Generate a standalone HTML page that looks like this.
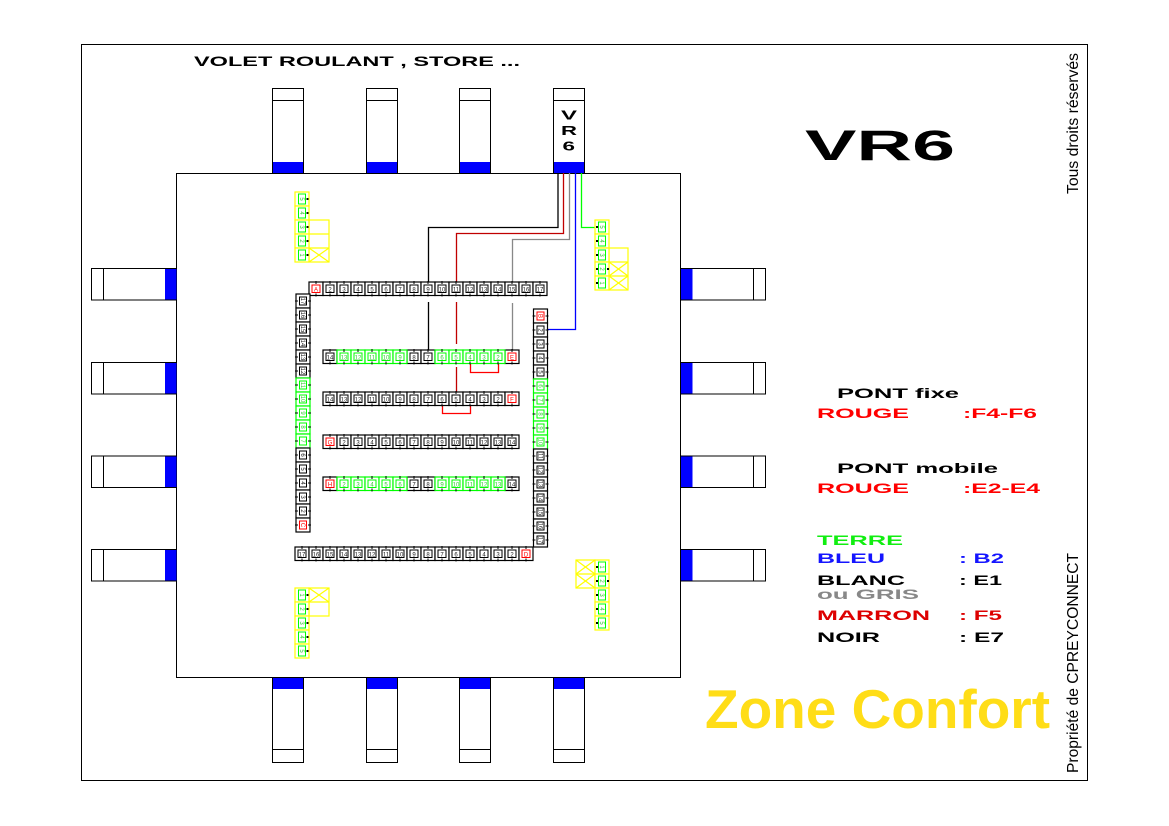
<!DOCTYPE html>
<html><head><meta charset="utf-8"><style>
html,body{margin:0;padding:0;background:#fff;overflow:hidden}
svg{display:block}
.t{font-size:6px;fill:#222;text-anchor:middle;font-family:"Liberation Sans",sans-serif}
.g{fill:#33cc33}
.r{fill:#f00}
.b{font-family:"Liberation Sans",sans-serif;font-weight:bold}
</style></head><body>
<svg width="1169" height="826" viewBox="0 0 1169 826" xmlns="http://www.w3.org/2000/svg" font-family="Liberation Sans, sans-serif">
<defs>
<g id="hb"><rect x="0" y="0" width="14" height="13.5" fill="#fff" stroke="#000" stroke-width="1.2"/><rect x="3" y="3" width="8" height="7.5" fill="none" stroke="#000"/><rect x="6.5" y="-1" width="1" height="3" fill="#000"/><rect x="6.5" y="11.5" width="1" height="3" fill="#000"/></g>
<g id="hg"><rect x="0" y="0" width="14" height="13.5" fill="#fff" stroke="#0f0" stroke-width="1.2"/><rect x="3" y="3" width="8" height="7.5" fill="none" stroke="#0f0"/><rect x="6.5" y="-1" width="1" height="3" fill="#000"/><rect x="6.5" y="11.5" width="1" height="3" fill="#000"/></g>
<g id="hr"><rect x="0" y="0" width="14" height="13.5" fill="#fff" stroke="#000" stroke-width="1.2"/><rect x="3" y="3" width="8" height="7.5" fill="none" stroke="#f00"/><rect x="6.5" y="-1" width="1" height="3" fill="#000"/><rect x="6.5" y="11.5" width="1" height="3" fill="#000"/></g>
<g id="vb"><rect x="0" y="0" width="14" height="14" fill="#fff" stroke="#000" stroke-width="1.2"/><rect x="3.5" y="3" width="7" height="8" fill="none" stroke="#000"/><rect x="-1" y="6.5" width="3" height="1" fill="#000"/><rect x="12" y="6.5" width="3" height="1" fill="#000"/></g>
<g id="vg"><rect x="0" y="0" width="14" height="14" fill="#fff" stroke="#0f0" stroke-width="1.2"/><rect x="3.5" y="3" width="7" height="8" fill="none" stroke="#0f0"/><rect x="-1" y="6.5" width="3" height="1" fill="#000"/><rect x="12" y="6.5" width="3" height="1" fill="#000"/></g>
<g id="vr"><rect x="0" y="0" width="14" height="14" fill="#fff" stroke="#000" stroke-width="1.2"/><rect x="3.5" y="3" width="7" height="8" fill="none" stroke="#f00"/><rect x="-1" y="6.5" width="3" height="1" fill="#000"/><rect x="12" y="6.5" width="3" height="1" fill="#000"/></g>
<g id="yc"><rect x="0" y="0" width="14" height="14" fill="#fff" stroke="#ff0" stroke-width="1.2"/><rect x="3.5" y="2" width="7" height="10" fill="none" stroke="#0f0"/></g>
</defs>

<!-- outer frame -->
<rect x="81.5" y="44.5" width="1006" height="736" fill="#fff" stroke="#000"/>
<!-- inner box -->
<rect x="176.5" y="173.5" width="504" height="504" fill="#fff" stroke="#000"/>

<!-- top connectors -->
<g stroke="#000" fill="#fff">
<rect x="272.5" y="88.5" width="31" height="85"/><line x1="272.5" y1="100.5" x2="303.5" y2="100.5"/>
<rect x="366.5" y="88.5" width="31" height="85"/><line x1="366.5" y1="100.5" x2="397.5" y2="100.5"/>
<rect x="459.5" y="88.5" width="31" height="85"/><line x1="459.5" y1="100.5" x2="490.5" y2="100.5"/>
<rect x="553.5" y="88.5" width="31" height="85"/><line x1="553.5" y1="100.5" x2="584.5" y2="100.5"/>
</g>
<g fill="#00f">
<rect x="273" y="162" width="30" height="11"/><rect x="367" y="162" width="30" height="11"/><rect x="460" y="162" width="30" height="11"/><rect x="554" y="162" width="30" height="11"/>
</g>
<!-- bottom connectors -->
<g stroke="#000" fill="#fff">
<rect x="272.5" y="677.5" width="31" height="85"/><line x1="272.5" y1="749.5" x2="303.5" y2="749.5"/>
<rect x="366.5" y="677.5" width="31" height="85"/><line x1="366.5" y1="749.5" x2="397.5" y2="749.5"/>
<rect x="459.5" y="677.5" width="31" height="85"/><line x1="459.5" y1="749.5" x2="490.5" y2="749.5"/>
<rect x="553.5" y="677.5" width="31" height="85"/><line x1="553.5" y1="749.5" x2="584.5" y2="749.5"/>
</g>
<g fill="#00f">
<rect x="273" y="678" width="30" height="11"/><rect x="367" y="678" width="30" height="11"/><rect x="460" y="678" width="30" height="11"/><rect x="554" y="678" width="30" height="11"/>
</g>
<!-- left connectors -->
<g stroke="#000" fill="#fff">
<rect x="91.5" y="268.5" width="85" height="31.5"/><line x1="103.5" y1="268.5" x2="103.5" y2="300"/>
<rect x="91.5" y="362.5" width="85" height="31.5"/><line x1="103.5" y1="362.5" x2="103.5" y2="394"/>
<rect x="91.5" y="456" width="85" height="31.5"/><line x1="103.5" y1="456" x2="103.5" y2="487.5"/>
<rect x="91.5" y="549.5" width="85" height="31.5"/><line x1="103.5" y1="549.5" x2="103.5" y2="581"/>
</g>
<g fill="#00f">
<rect x="165" y="269" width="11.5" height="30.5"/><rect x="165" y="363" width="11.5" height="30.5"/><rect x="165" y="456.5" width="11.5" height="30.5"/><rect x="165" y="550" width="11.5" height="30.5"/>
</g>
<!-- right connectors -->
<g stroke="#000" fill="#fff">
<rect x="680.5" y="268.5" width="85" height="31.5"/><line x1="753.5" y1="268.5" x2="753.5" y2="300"/>
<rect x="680.5" y="362.5" width="85" height="31.5"/><line x1="753.5" y1="362.5" x2="753.5" y2="394"/>
<rect x="680.5" y="456" width="85" height="31.5"/><line x1="753.5" y1="456" x2="753.5" y2="487.5"/>
<rect x="680.5" y="549.5" width="85" height="31.5"/><line x1="753.5" y1="549.5" x2="753.5" y2="581"/>
</g>
<g fill="#00f">
<rect x="681" y="269" width="11.5" height="30.5"/><rect x="681" y="363" width="11.5" height="30.5"/><rect x="681" y="456.5" width="11.5" height="30.5"/><rect x="681" y="550" width="11.5" height="30.5"/>
</g>

<!-- VR6 label in connector -->
<text class="b" x="561" y="119.5" font-size="13" textLength="16" lengthAdjust="spacingAndGlyphs">V</text>
<text class="b" x="561" y="135" font-size="13" textLength="16" lengthAdjust="spacingAndGlyphs">R</text>
<text class="b" x="562.5" y="150.5" font-size="13" textLength="12.5" lengthAdjust="spacingAndGlyphs">6</text>

<!-- wires -->
<g fill="none" stroke-width="1.3">
<polyline points="558,173 558,227.5 428.5,227.5 428.5,282" stroke="#000"/>
<line x1="428.5" y1="302" x2="428.5" y2="350" stroke="#000"/>
<polyline points="563.5,173 563.5,233.5 456.5,233.5 456.5,282" stroke="#c00000"/>
<line x1="456.5" y1="302" x2="456.5" y2="344" stroke="#c00000"/>
<line x1="456.5" y1="367" x2="456.5" y2="392" stroke="#c00000"/>
<polyline points="569.5,173 569.5,239.5 512.5,239.5 512.5,282" stroke="#888"/>
<line x1="512.5" y1="303" x2="512.5" y2="350" stroke="#888"/>
<polyline points="575.5,173 575.5,329.5 546,329.5" stroke="#00f"/>
<polyline points="581.5,173 581.5,227.5 597,227.5" stroke="#0f0"/>
<polyline points="470.5,364 470.5,372.5 498.5,372.5 498.5,364" stroke="#f00"/>
<polyline points="442.5,406 442.5,413.5 470.5,413.5 470.5,406" stroke="#f00"/>
</g>

<!-- top row -->
<use href="#hr" x="309" y="282"/><use href="#hb" x="323" y="282"/><use href="#hb" x="337" y="282"/><use href="#hb" x="351" y="282"/><use href="#hb" x="365" y="282"/><use href="#hb" x="379" y="282"/><use href="#hb" x="393" y="282"/><use href="#hb" x="407" y="282"/><use href="#hb" x="421" y="282"/><use href="#hb" x="435" y="282"/><use href="#hb" x="449" y="282"/><use href="#hb" x="463" y="282"/><use href="#hb" x="477" y="282"/><use href="#hb" x="491" y="282"/><use href="#hb" x="505" y="282"/><use href="#hb" x="519" y="282"/><use href="#hb" x="533" y="282"/>
<text x="316" y="291.5" class="t r">A</text><text x="330" y="291.5" class="t">2</text><text x="344" y="291.5" class="t">3</text><text x="358" y="291.5" class="t">4</text><text x="372" y="291.5" class="t">5</text><text x="386" y="291.5" class="t">6</text><text x="400" y="291.5" class="t">7</text><text x="414" y="291.5" class="t">8</text><text x="428" y="291.5" class="t">9</text><text x="442" y="291.5" class="t">10</text><text x="456" y="291.5" class="t">11</text><text x="470" y="291.5" class="t">12</text><text x="484" y="291.5" class="t">13</text><text x="498" y="291.5" class="t">14</text><text x="512" y="291.5" class="t">15</text><text x="526" y="291.5" class="t">16</text><text x="540" y="291.5" class="t">17</text>

<!-- row E -->
<use href="#hb" x="323" y="350"/><use href="#hb" x="407" y="350"/><use href="#hb" x="421" y="350"/><use href="#hr" x="505" y="350"/>
<use href="#hg" x="337" y="350"/><use href="#hg" x="351" y="350"/><use href="#hg" x="365" y="350"/><use href="#hg" x="379" y="350"/><use href="#hg" x="393" y="350"/>
<use href="#hg" x="435" y="350"/><use href="#hg" x="449" y="350"/><use href="#hg" x="463" y="350"/><use href="#hg" x="477" y="350"/><use href="#hg" x="491" y="350"/>
<text x="330" y="359.5" class="t">14</text><text x="344" y="359.5" class="t g">13</text><text x="358" y="359.5" class="t g">12</text><text x="372" y="359.5" class="t g">11</text><text x="386" y="359.5" class="t g">10</text><text x="400" y="359.5" class="t g">9</text><text x="414" y="359.5" class="t">8</text><text x="428" y="359.5" class="t">7</text><text x="442" y="359.5" class="t g">6</text><text x="456" y="359.5" class="t g">5</text><text x="470" y="359.5" class="t g">4</text><text x="484" y="359.5" class="t g">3</text><text x="498" y="359.5" class="t g">2</text><text x="512" y="359.5" class="t r">E</text>

<!-- row F -->
<use href="#hb" x="323" y="392"/><use href="#hb" x="337" y="392"/><use href="#hb" x="351" y="392"/><use href="#hb" x="365" y="392"/><use href="#hb" x="379" y="392"/><use href="#hb" x="393" y="392"/><use href="#hb" x="407" y="392"/><use href="#hb" x="421" y="392"/><use href="#hb" x="435" y="392"/><use href="#hb" x="449" y="392"/><use href="#hb" x="463" y="392"/><use href="#hb" x="477" y="392"/><use href="#hb" x="491" y="392"/><use href="#hr" x="505" y="392"/>
<text x="330" y="401.5" class="t">14</text><text x="344" y="401.5" class="t">13</text><text x="358" y="401.5" class="t">12</text><text x="372" y="401.5" class="t">11</text><text x="386" y="401.5" class="t">10</text><text x="400" y="401.5" class="t">9</text><text x="414" y="401.5" class="t">8</text><text x="428" y="401.5" class="t">7</text><text x="442" y="401.5" class="t">6</text><text x="456" y="401.5" class="t">5</text><text x="470" y="401.5" class="t">4</text><text x="484" y="401.5" class="t">3</text><text x="498" y="401.5" class="t">2</text><text x="512" y="401.5" class="t r">F</text>

<!-- row G -->
<use href="#hr" x="323" y="435"/><use href="#hb" x="337" y="435"/><use href="#hb" x="351" y="435"/><use href="#hb" x="365" y="435"/><use href="#hb" x="379" y="435"/><use href="#hb" x="393" y="435"/><use href="#hb" x="407" y="435"/><use href="#hb" x="421" y="435"/><use href="#hb" x="435" y="435"/><use href="#hb" x="449" y="435"/><use href="#hb" x="463" y="435"/><use href="#hb" x="477" y="435"/><use href="#hb" x="491" y="435"/><use href="#hb" x="505" y="435"/>
<text x="330" y="444.5" class="t r">G</text><text x="344" y="444.5" class="t">2</text><text x="358" y="444.5" class="t">3</text><text x="372" y="444.5" class="t">4</text><text x="386" y="444.5" class="t">5</text><text x="400" y="444.5" class="t">6</text><text x="414" y="444.5" class="t">7</text><text x="428" y="444.5" class="t">8</text><text x="442" y="444.5" class="t">9</text><text x="456" y="444.5" class="t">10</text><text x="470" y="444.5" class="t">11</text><text x="484" y="444.5" class="t">12</text><text x="498" y="444.5" class="t">13</text><text x="512" y="444.5" class="t">14</text>

<!-- row H -->
<use href="#hr" x="323" y="477"/><use href="#hb" x="407" y="477"/><use href="#hb" x="421" y="477"/><use href="#hb" x="505" y="477"/>
<use href="#hg" x="337" y="477"/><use href="#hg" x="351" y="477"/><use href="#hg" x="365" y="477"/><use href="#hg" x="379" y="477"/><use href="#hg" x="393" y="477"/>
<use href="#hg" x="435" y="477"/><use href="#hg" x="449" y="477"/><use href="#hg" x="463" y="477"/><use href="#hg" x="477" y="477"/><use href="#hg" x="491" y="477"/>
<text x="330" y="486.5" class="t r">H</text><text x="344" y="486.5" class="t g">2</text><text x="358" y="486.5" class="t g">3</text><text x="372" y="486.5" class="t g">4</text><text x="386" y="486.5" class="t g">5</text><text x="400" y="486.5" class="t g">6</text><text x="414" y="486.5" class="t">7</text><text x="428" y="486.5" class="t">8</text><text x="442" y="486.5" class="t g">9</text><text x="456" y="486.5" class="t g">10</text><text x="470" y="486.5" class="t g">11</text><text x="484" y="486.5" class="t g">12</text><text x="498" y="486.5" class="t g">13</text><text x="512" y="486.5" class="t">14</text>

<!-- bottom row -->
<use href="#hb" x="295" y="547"/><use href="#hb" x="309" y="547"/><use href="#hb" x="323" y="547"/><use href="#hb" x="337" y="547"/><use href="#hb" x="351" y="547"/><use href="#hb" x="365" y="547"/><use href="#hb" x="379" y="547"/><use href="#hb" x="393" y="547"/><use href="#hb" x="407" y="547"/><use href="#hb" x="421" y="547"/><use href="#hb" x="435" y="547"/><use href="#hb" x="449" y="547"/><use href="#hb" x="463" y="547"/><use href="#hb" x="477" y="547"/><use href="#hb" x="491" y="547"/><use href="#hb" x="505" y="547"/><use href="#hr" x="519" y="547"/>
<text x="302" y="556.5" class="t">17</text><text x="316" y="556.5" class="t">16</text><text x="330" y="556.5" class="t">15</text><text x="344" y="556.5" class="t">14</text><text x="358" y="556.5" class="t">13</text><text x="372" y="556.5" class="t">12</text><text x="386" y="556.5" class="t">11</text><text x="400" y="556.5" class="t">10</text><text x="414" y="556.5" class="t">9</text><text x="428" y="556.5" class="t">8</text><text x="442" y="556.5" class="t">7</text><text x="456" y="556.5" class="t">6</text><text x="470" y="556.5" class="t">5</text><text x="484" y="556.5" class="t">4</text><text x="498" y="556.5" class="t">3</text><text x="512" y="556.5" class="t">2</text><text x="526" y="556.5" class="t r">D</text>

<!-- left column -->
<use href="#vb" x="296" y="294"/><use href="#vb" x="296" y="308"/><use href="#vb" x="296" y="322"/><use href="#vb" x="296" y="336"/><use href="#vb" x="296" y="350"/><use href="#vb" x="296" y="364"/>
<use href="#vg" x="296" y="378"/><use href="#vg" x="296" y="392"/><use href="#vg" x="296" y="406"/><use href="#vg" x="296" y="420"/><use href="#vg" x="296" y="434"/>
<use href="#vb" x="296" y="448"/><use href="#vb" x="296" y="462"/><use href="#vb" x="296" y="476"/><use href="#vb" x="296" y="490"/><use href="#vb" x="296" y="504"/><use href="#vr" x="296" y="518"/>
<text transform="translate(303 301) rotate(90)" y="2" class="t">17</text>
<text transform="translate(303 315) rotate(90)" y="2" class="t">16</text>
<text transform="translate(303 329) rotate(90)" y="2" class="t">15</text>
<text transform="translate(303 343) rotate(90)" y="2" class="t">14</text>
<text transform="translate(303 357) rotate(90)" y="2" class="t">13</text>
<text transform="translate(303 371) rotate(90)" y="2" class="t">12</text>
<text transform="translate(303 385) rotate(90)" y="2" class="t g">11</text>
<text transform="translate(303 399) rotate(90)" y="2" class="t g">10</text>
<text transform="translate(303 413) rotate(90)" y="2" class="t g">9</text>
<text transform="translate(303 427) rotate(90)" y="2" class="t g">8</text>
<text transform="translate(303 441) rotate(90)" y="2" class="t g">7</text>
<text transform="translate(303 455) rotate(90)" y="2" class="t">6</text>
<text transform="translate(303 469) rotate(90)" y="2" class="t">5</text>
<text transform="translate(303 483) rotate(90)" y="2" class="t">4</text>
<text transform="translate(303 497) rotate(90)" y="2" class="t">3</text>
<text transform="translate(303 511) rotate(90)" y="2" class="t">2</text>
<text transform="translate(303 525) rotate(90)" y="2" class="t r">C</text>

<!-- right column -->
<use href="#vr" x="533.5" y="309"/><use href="#vb" x="533.5" y="323"/><use href="#vb" x="533.5" y="337"/><use href="#vb" x="533.5" y="351"/><use href="#vb" x="533.5" y="365"/>
<use href="#vg" x="533.5" y="379"/><use href="#vg" x="533.5" y="393"/><use href="#vg" x="533.5" y="407"/><use href="#vg" x="533.5" y="421"/><use href="#vg" x="533.5" y="435"/>
<use href="#vb" x="533.5" y="449"/><use href="#vb" x="533.5" y="463"/><use href="#vb" x="533.5" y="477"/><use href="#vb" x="533.5" y="491"/><use href="#vb" x="533.5" y="505"/><use href="#vb" x="533.5" y="519"/><use href="#vb" x="533.5" y="533"/>
<text transform="translate(540.5 316) rotate(90)" y="2" class="t r">B</text>
<text transform="translate(540.5 330) rotate(90)" y="2" class="t">2</text>
<text transform="translate(540.5 344) rotate(90)" y="2" class="t">3</text>
<text transform="translate(540.5 358) rotate(90)" y="2" class="t">4</text>
<text transform="translate(540.5 372) rotate(90)" y="2" class="t">5</text>
<text transform="translate(540.5 386) rotate(90)" y="2" class="t g">6</text>
<text transform="translate(540.5 400) rotate(90)" y="2" class="t g">7</text>
<text transform="translate(540.5 414) rotate(90)" y="2" class="t g">8</text>
<text transform="translate(540.5 428) rotate(90)" y="2" class="t g">9</text>
<text transform="translate(540.5 442) rotate(90)" y="2" class="t g">10</text>
<text transform="translate(540.5 456) rotate(90)" y="2" class="t">11</text>
<text transform="translate(540.5 470) rotate(90)" y="2" class="t">12</text>
<text transform="translate(540.5 484) rotate(90)" y="2" class="t">13</text>
<text transform="translate(540.5 498) rotate(90)" y="2" class="t">14</text>
<text transform="translate(540.5 512) rotate(90)" y="2" class="t">15</text>
<text transform="translate(540.5 526) rotate(90)" y="2" class="t">16</text>
<text transform="translate(540.5 540) rotate(90)" y="2" class="t">17</text>

<!-- yellow blocks -->
<g fill="none" stroke="#ff0" stroke-width="1.2">
<rect x="309" y="220" width="20" height="42"/><line x1="309" y1="234" x2="329" y2="234"/><line x1="309" y1="248" x2="329" y2="248"/><line x1="309" y1="248" x2="329" y2="262"/><line x1="329" y1="248" x2="309" y2="262"/>
<rect x="609" y="248" width="19" height="42"/><line x1="609" y1="262" x2="628" y2="262"/><line x1="609" y1="276" x2="628" y2="276"/><line x1="609" y1="262" x2="628" y2="276"/><line x1="628" y1="262" x2="609" y2="276"/><line x1="609" y1="276" x2="628" y2="290"/><line x1="628" y1="276" x2="609" y2="290"/>
<rect x="309" y="588" width="20" height="28"/><line x1="309" y1="602" x2="329" y2="602"/><line x1="309" y1="588" x2="329" y2="602"/><line x1="329" y1="588" x2="309" y2="602"/>
<rect x="576" y="560" width="19" height="28"/><line x1="576" y1="574" x2="595" y2="574"/><line x1="576" y1="560" x2="595" y2="574"/><line x1="595" y1="560" x2="576" y2="574"/><line x1="576" y1="574" x2="595" y2="588"/><line x1="595" y1="574" x2="576" y2="588"/>
</g>
<use href="#yc" x="295" y="192"/><use href="#yc" x="295" y="206"/><use href="#yc" x="295" y="220"/><use href="#yc" x="295" y="234"/><use href="#yc" x="295" y="248"/>
<use href="#yc" x="595" y="220"/><use href="#yc" x="595" y="234"/><use href="#yc" x="595" y="248"/><use href="#yc" x="595" y="262"/><use href="#yc" x="595" y="276"/>
<use href="#yc" x="295" y="588"/><use href="#yc" x="295" y="602"/><use href="#yc" x="295" y="616"/><use href="#yc" x="295" y="630"/><use href="#yc" x="295" y="644"/>
<use href="#yc" x="595" y="560"/><use href="#yc" x="595" y="574"/><use href="#yc" x="595" y="588"/><use href="#yc" x="595" y="602"/><use href="#yc" x="595" y="616"/>
<g fill="#000">
<rect x="306.5" y="198" width="2" height="2"/><rect x="306.5" y="212" width="2" height="2"/><rect x="306.5" y="226" width="2" height="2"/><rect x="306.5" y="240" width="2" height="2"/><rect x="306.5" y="254" width="2" height="2"/>
<rect x="596" y="226" width="2" height="2"/><rect x="596" y="240" width="2" height="2"/><rect x="596" y="254" width="2" height="2"/><rect x="596" y="268" width="2" height="2"/><rect x="596" y="282" width="2" height="2"/><rect x="607" y="268" width="2" height="2"/>
<rect x="306.5" y="594" width="2" height="2"/><rect x="306.5" y="608" width="2" height="2"/><rect x="306.5" y="622" width="2" height="2"/><rect x="306.5" y="636" width="2" height="2"/><rect x="306.5" y="650" width="2" height="2"/>
<rect x="596" y="566" width="2" height="2"/><rect x="596" y="580" width="2" height="2"/><rect x="596" y="594" width="2" height="2"/><rect x="596" y="608" width="2" height="2"/><rect x="596" y="622" width="2" height="2"/><rect x="607" y="580" width="2" height="2"/>
</g>
<text transform="translate(302 199) rotate(90)" y="2" class="t g">5</text>
<text transform="translate(302 213) rotate(90)" y="2" class="t g">4</text>
<text transform="translate(302 227) rotate(90)" y="2" class="t g">3</text>
<text transform="translate(302 241) rotate(90)" y="2" class="t g">2</text>
<text transform="translate(302 255) rotate(90)" y="2" class="t g">1</text>
<text transform="translate(602 227) rotate(90)" y="2" class="t g">5</text>
<text transform="translate(602 241) rotate(90)" y="2" class="t g">4</text>
<text transform="translate(602 255) rotate(90)" y="2" class="t g">3</text>
<text transform="translate(602 269) rotate(90)" y="2" class="t g">2</text>
<text transform="translate(602 283) rotate(90)" y="2" class="t g">1</text>
<text transform="translate(302 595) rotate(90)" y="2" class="t g">1</text>
<text transform="translate(302 609) rotate(90)" y="2" class="t g">2</text>
<text transform="translate(302 623) rotate(90)" y="2" class="t g">3</text>
<text transform="translate(302 637) rotate(90)" y="2" class="t g">4</text>
<text transform="translate(302 651) rotate(90)" y="2" class="t g">5</text>
<text transform="translate(602 567) rotate(90)" y="2" class="t g">1</text>
<text transform="translate(602 581) rotate(90)" y="2" class="t g">2</text>
<text transform="translate(602 595) rotate(90)" y="2" class="t g">3</text>
<text transform="translate(602 609) rotate(90)" y="2" class="t g">4</text>
<text transform="translate(602 623) rotate(90)" y="2" class="t g">5</text>

<!-- titles -->
<text class="b" x="194" y="66" font-size="14" textLength="326" lengthAdjust="spacingAndGlyphs" fill="#000">VOLET ROULANT , STORE ...</text>
<text class="b" x="805" y="160" font-size="43" textLength="150" lengthAdjust="spacingAndGlyphs" fill="#000">VR6</text>

<!-- legend -->
<g class="b" font-size="14">
<text x="837" y="398" textLength="122" lengthAdjust="spacingAndGlyphs" fill="#000">PONT fixe</text>
<text x="817" y="418" textLength="92" lengthAdjust="spacingAndGlyphs" fill="#f00">ROUGE</text>
<text x="963" y="418" textLength="74" lengthAdjust="spacingAndGlyphs" fill="#f00">:F4-F6</text>
<text x="837" y="473" textLength="161" lengthAdjust="spacingAndGlyphs" fill="#000">PONT mobile</text>
<text x="817" y="493" textLength="92" lengthAdjust="spacingAndGlyphs" fill="#f00">ROUGE</text>
<text x="963" y="493" textLength="77" lengthAdjust="spacingAndGlyphs" fill="#f00">:E2-E4</text>
<text x="817" y="545" textLength="86" lengthAdjust="spacingAndGlyphs" fill="#11ee11">TERRE</text>
<text x="817" y="563" textLength="68" lengthAdjust="spacingAndGlyphs" fill="#1515ff">BLEU</text>
<text x="959" y="563" textLength="45" lengthAdjust="spacingAndGlyphs" fill="#1515ff">: B2</text>
<text x="817" y="585" textLength="88" lengthAdjust="spacingAndGlyphs" fill="#000">BLANC</text>
<text x="959" y="585" textLength="43" lengthAdjust="spacingAndGlyphs" fill="#000">: E1</text>
<text x="817" y="599" textLength="102" lengthAdjust="spacingAndGlyphs" fill="#888">ou GRIS</text>
<text x="817" y="620" textLength="113" lengthAdjust="spacingAndGlyphs" fill="#dd0000">MARRON</text>
<text x="959" y="620" textLength="43" lengthAdjust="spacingAndGlyphs" fill="#dd0000">: F5</text>
<text x="817" y="642" textLength="63" lengthAdjust="spacingAndGlyphs" fill="#000">NOIR</text>
<text x="959" y="642" textLength="45" lengthAdjust="spacingAndGlyphs" fill="#000">: E7</text>
</g>

<text class="b" x="705" y="728" font-size="55" textLength="345" lengthAdjust="spacingAndGlyphs" fill="#ffdd17">Zone Confort</text>

<!-- vertical side texts -->
<text transform="translate(1078 194) rotate(-90)" font-size="16" textLength="141" lengthAdjust="spacingAndGlyphs" fill="#000" font-family="Liberation Sans, sans-serif">Tous droits réservés</text>
<text transform="translate(1078 773) rotate(-90)" font-size="16" textLength="220" lengthAdjust="spacingAndGlyphs" fill="#000" font-family="Liberation Sans, sans-serif">Propriété de CPREYCONNECT</text>
</svg>
</body></html>
